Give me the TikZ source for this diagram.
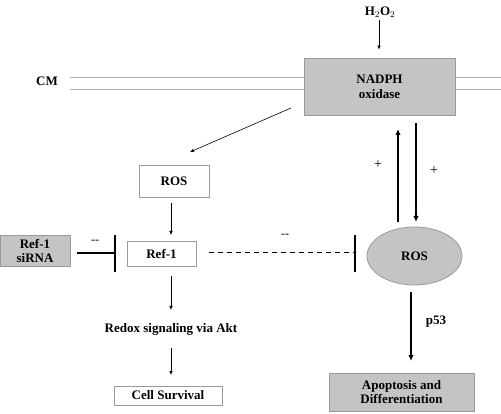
\documentclass[tikz,border=0pt]{standalone}
\usepackage{fontspec}
\setmainfont{Liberation Serif}
\usetikzlibrary{arrows.meta,shapes.geometric}
\definecolor{boxfill}{HTML}{C4C4C4}
\definecolor{boxedge}{HTML}{9A9A9A}
\definecolor{memb}{HTML}{B0B0B0}
\begin{document}
\begin{tikzpicture}[x=1pt,y=-1pt,
  txt/.style={font=\bfseries\fontsize{13}{14}\selectfont, text=black, align=center},
  whitebox/.style={txt, draw=boxedge, line width=0.6pt, fill=white, inner sep=0pt},
  graybox/.style={txt, draw=boxedge, line width=0.8pt, fill=boxfill, inner sep=0pt},
  thin arrow/.style={line width=0.6pt, -{Latex[length=4pt,width=3.5pt]}},
  thick arrow/.style={line width=1.5pt, -{Latex[length=6pt,width=5.5pt]}},
  blocker/.style={line width=1.3pt},
  sign/.style={font=\fontsize{14}{16}\selectfont, inner sep=0pt},
  membrane/.style={draw=memb, line width=0.8pt}]
\useasboundingbox (0,0) rectangle (501,414);
% membrane
\draw[membrane] (70,77) -- (304,77) (70,89) -- (304,89) (455,77) -- (501,77) (455,89) -- (501,89);
\node[txt, inner sep=0pt] (cm) at (47,81) {CM};
% nodes
\node[graybox, minimum width=151pt, minimum height=57pt] (nadph) at (379.5,86.5) {NADPH\\[1pt]oxidase};
\node[txt, inner sep=0pt] (h2o2) at (380,12) {H$_2$O$_2$};
\node[whitebox, minimum width=70pt, minimum height=32pt] (ros1) at (174,181) {ROS};
\node[whitebox, minimum width=69pt, minimum height=25pt] (ref1) at (161.5,253.5) {Ref-1};
\node[graybox, minimum width=70pt, minimum height=31pt] (sirna) at (35,250.5) {Ref-1\\siRNA};
\node[ellipse, graybox, minimum width=95pt, minimum height=58pt] (ros2) at (414.5,256) {ROS};
\node[txt, inner sep=0pt] (redox) at (171,329) {Redox signaling via Akt};
\node[whitebox, minimum width=108pt, minimum height=19pt] (cell) at (168,395.5) {Cell Survival};
\node[graybox, minimum width=145pt, minimum height=38pt] (apo) at (401.5,392) {Apoptosis and\\Differentiation};
% connectors
\draw[thin arrow] (h2o2) ++(-1,8) coordinate (h2top) -- (nadph.north -| h2top) [shorten >=8pt];
\coordinate (d1) at (291,108);
\coordinate (d2) at (190,152);
\draw[thin arrow] (d1) -- (d2);
\coordinate (r1a) at (171,203);
\coordinate (r1b) at (171,235);
\draw[thin arrow] (r1a) -- (r1b);
\coordinate (ra) at (171,276);
\coordinate (rb) at (171,310);
\draw[thin arrow] (ra) -- (rb);
\coordinate (sa) at (171,348);
\coordinate (sb) at (171,375);
\draw[thin arrow] (sa) -- (sb);
% inhibition from siRNA
\coordinate (ia) at (77,253);
\coordinate (ib) at (115,253);
\draw[blocker] (ia) -- (ib);
\draw[blocker] (115,235) -- (115,272);
\node[sign, font=\fontsize{12}{14}\selectfont] at (95,242) {-{}-};
% dashed inhibition Ref-1 -> ROS
\coordinate (da) at (209,253);
\coordinate (db) at (355,253);
\draw[line width=1pt, dash pattern=on 5pt off 4pt] (da) -- (db);
\draw[blocker] (355,235) -- (355,272);
\node[sign, font=\fontsize{12}{14}\selectfont] at (285,236) {-{}-};
% feedback arrows
\coordinate (u1) at (398,222);
\coordinate (u2) at (398,129);
\draw[thick arrow] (u1) -- (u2);
\coordinate (w1) at (416,123);
\coordinate (w2) at (416,222);
\draw[thick arrow] (w1) -- (w2);
\node[sign] at (378,165) {+};
\node[sign] at (434,171) {+};
% p53
\coordinate (p1) at (411,292);
\coordinate (p2) at (411,361);
\draw[thick arrow] (p1) -- (p2);
\node[txt, inner sep=0pt] at (436,322) {p53};
\end{tikzpicture}
\end{document}
